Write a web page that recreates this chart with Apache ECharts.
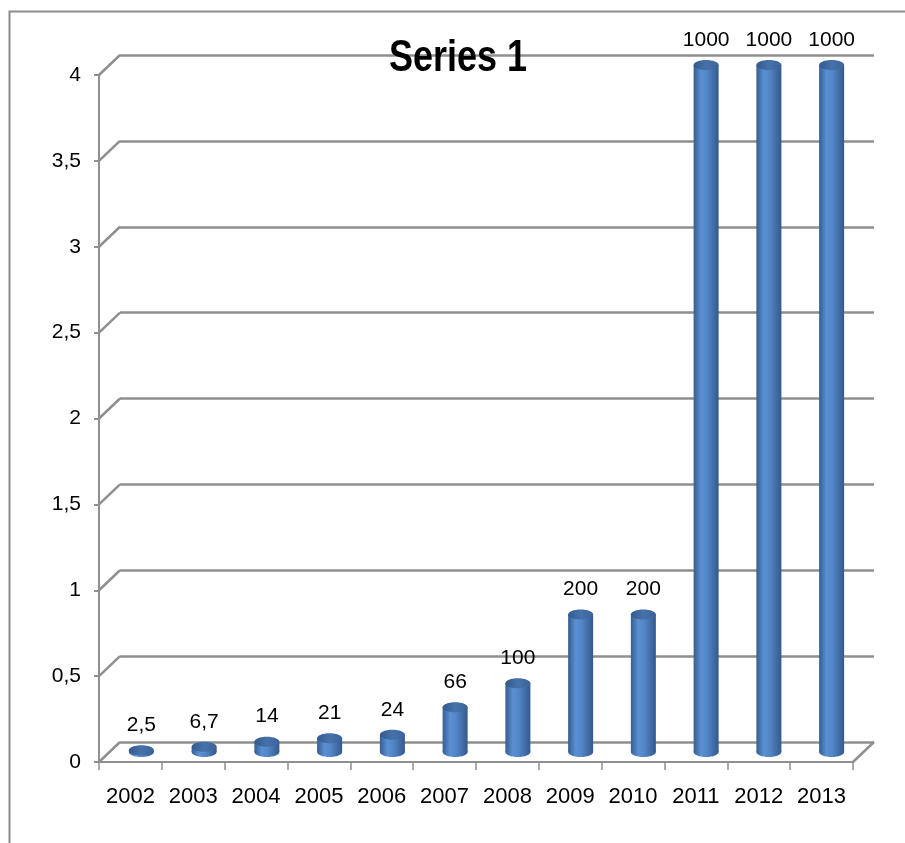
<!DOCTYPE html>
<html>
<head>
<meta charset="utf-8">
<script src="https://cdn.jsdelivr.net/npm/echarts@6/dist/echarts.min.js"></script>
<style>html,body{margin:0;padding:0;background:#fff;}#c{width:905px;height:843px;}</style>
</head>
<body>
<div id="c"></div>
<script>
const categories = ['2002','2003','2004','2005','2006','2007','2008','2009','2010','2011','2012','2013'];
const barHeights = [0.01, 0.03, 0.06, 0.08, 0.1, 0.26, 0.4, 0.8, 0.8, 4, 4, 4];
const barLabels = ['2,5','6,7','14','21','24','66','100','200','200','1000','1000','1000'];
const yTicks = [0, 0.5, 1, 1.5, 2, 2.5, 3, 3.5, 4];
const titleText = 'Series 1';

const FONT = "'Liberation Sans', Arial, sans-serif";
const GRID_COLOR = '#8f8f8f';
const DX = 21, DY = -20;

const chart = echarts.init(document.getElementById('c'), null, {renderer: 'canvas'});

function fmt(v){ return String(v).replace('.', ','); }

const option = {
  animation: false,
  backgroundColor: '#fff',
  graphic: [
    {type: 'rect', left: 7, top: 9, silent: true, z: -10,
     shape: {width: 1000, height: 1000},
     style: {fill: 'none', stroke: '#8a8a8a', lineWidth: 2}},
    {type: 'text', x: 458, y: 58.5, scaleY: 1.25, z: 10, silent: true,
     style: {text: titleText, align: 'center', verticalAlign: 'middle',
             fontFamily: FONT, fontWeight: 'bold', fontSize: 36, fill: '#000'}}
  ],
  grid: [
    {left: 99, right: 52, top: 75, bottom: 81},   // front
    {left: 120, right: 31, top: 55, bottom: 101}, // back wall
    {left: 110, right: 42, top: 65, bottom: 91}   // mid depth (bars)
  ],
  xAxis: [
    {gridIndex: 0, type: 'category', data: categories, boundaryGap: true,
     axisLine: {show: true, lineStyle: {color: GRID_COLOR, width: 2}},
     axisTick: {show: true, length: 8, interval: 0, lineStyle: {color: GRID_COLOR, width: 1.5}},
     axisLabel: {fontFamily: FONT, fontSize: 22, color: '#000', margin: 24, interval: 0}},
    {gridIndex: 1, type: 'category', data: categories, show: false},
    {gridIndex: 2, type: 'category', data: categories, show: false}
  ],
  yAxis: [
    {gridIndex: 0, type: 'value', min: 0, max: 4, interval: 0.5,
     axisLine: {show: true, lineStyle: {color: GRID_COLOR, width: 2}},
     axisTick: {show: true, length: 5, lineStyle: {color: GRID_COLOR, width: 2}},
     splitLine: {show: false},
     axisLabel: {fontFamily: FONT, fontSize: 21, color: '#000', margin: 18, formatter: fmt}},
    {gridIndex: 1, type: 'value', min: 0, max: 4, interval: 0.5,
     axisLine: {show: false}, axisTick: {show: false}, axisLabel: {show: false},
     splitLine: {show: true, lineStyle: {color: GRID_COLOR, width: 2.5}}},
    {gridIndex: 2, type: 'value', min: 0, max: 4, show: false, splitLine: {show: false}}
  ],
  series: [
    {
      type: 'custom', name: 'connectors', xAxisIndex: 0, yAxisIndex: 0, z: 1, silent: true,
      data: yTicks.map(v => [0, v]),
      renderItem: function(params, api){
        const p = api.coord([0, api.value(1)]);
        const half = api.size([1, 0])[0] / 2;
        const lx = p[0] - half;
        return {type: 'line', shape: {x1: lx, y1: p[1], x2: lx + DX, y2: p[1] + DY},
                style: {stroke: GRID_COLOR, lineWidth: 2.5}};
      }
    },
    {
      type: 'custom', name: 'floorRight', xAxisIndex: 0, yAxisIndex: 0, z: 1, silent: true,
      data: [[categories.length - 1, 0]],
      renderItem: function(params, api){
        const p = api.coord([api.value(0), api.value(1)]);
        const half = api.size([1, 0])[0] / 2;
        const rx = p[0] + half;
        return {type: 'line', shape: {x1: rx, y1: p[1], x2: rx + DX, y2: p[1] + DY},
                style: {stroke: GRID_COLOR, lineWidth: 2.5}};
      }
    },
    {
      type: 'custom', name: 'Series 1', xAxisIndex: 2, yAxisIndex: 2, z: 5,
      data: barHeights.map((v, i) => [i, v, barLabels[i]]),
      renderItem: function(params, api){
        const i = api.value(0);
        const top = api.coord([i, api.value(1)]);
        const bot = api.coord([i, 0]);
        const w = 25, ry = 5;
        const cx = top[0];
        const bodyGrad = new echarts.graphic.LinearGradient(0, 0, 1, 0, [
          {offset: 0, color: '#355d92'},
          {offset: 0.3, color: '#5a90d2'},
          {offset: 0.55, color: '#5185c6'},
          {offset: 1, color: '#34598c'}
        ]);
        const topGrad = new echarts.graphic.LinearGradient(0, 0, 1, 0, [
          {offset: 0, color: '#33598c'},
          {offset: 0.5, color: '#4672ab'},
          {offset: 1, color: '#3a6399'}
        ]);
        const h = Math.max(bot[1] - top[1], 0);
        return {
          type: 'group',
          children: [
            {type: 'ellipse', shape: {cx: cx, cy: bot[1], rx: w/2, ry: ry}, style: {fill: bodyGrad}},
            {type: 'rect', shape: {x: cx - w/2, y: top[1], width: w, height: h}, style: {fill: bodyGrad}},
            {type: 'ellipse', shape: {cx: cx, cy: top[1], rx: w/2, ry: ry}, style: {fill: topGrad}},
            {type: 'text', style: {text: api.value(2), x: cx, y: top[1] - 25, align: 'center', verticalAlign: 'middle',
              fontFamily: FONT, fontSize: 21, fill: '#000'}}
          ]
        };
      }
    }
  ]
};
chart.setOption(option);
</script>
</body>
</html>
